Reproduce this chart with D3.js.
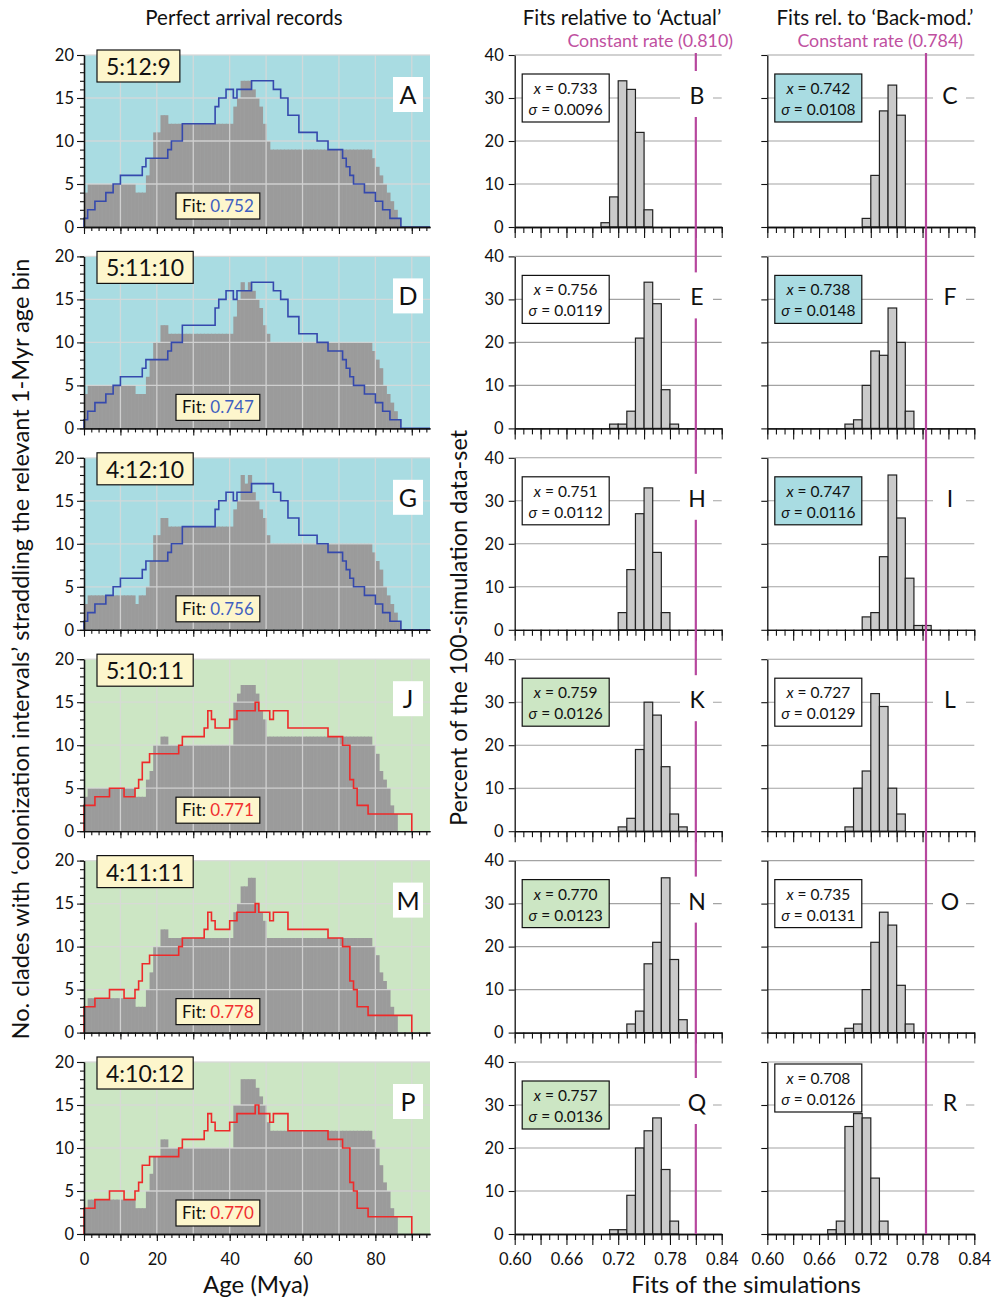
<!DOCTYPE html>
<html>
<head>
<meta charset="utf-8">
<script src="https://cdn.jsdelivr.net/npm/d3@7"></script>
<style>
  body { margin: 0; background: #fff; }
  svg text { font-family: Lato, "Open Sans", sans-serif; }
</style>
</head>
<body>
<svg id="chart" width="993" height="1299"></svg>
<script>
// ---------- data ----------
const ratioLabels = ["5:12:9", "5:11:10", "4:12:10", "5:10:11", "4:11:11", "4:10:12"];
const panelLetters = [["A", "B", "C"], ["D", "E", "F"], ["G", "H", "I"], ["J", "K", "L"], ["M", "N", "O"], ["P", "Q", "R"]];
const recordFits = [0.752, 0.747, 0.756, 0.771, 0.778, 0.770];

// clades per 1-Myr age bin (bin i covers i..i+1 Mya)
const grayA = [4,5,5,5,5,5,5,5,5,5, 5,5,5,5,4,4,4,6,8,11, 11,13,13,12,12,12,12,12,12,12,
  12,12,12,12,12,12,12,12,12,12, 12,14,15,17,17,17,16,15,14,12, 10,9,9,9,9,9,9,9,9,9,
  9,9,9,9,9,9,9,9,9,9, 9,9,9,9,9,9,9,9,9,8, 7,6,5,4,3,2,1];
const grayD = [4,5,5,5,5,5,5,5,5,5, 5,5,5,5,4,4,4,6,8,10, 10,12,12,11,11,11,11,11,11,11,
  11,11,11,11,11,11,11,11,11,11, 11,13,15,17,16,17,16,15,14,12, 11,10,10,10,10,10,10,10,10,10,
  10,10,10,10,10,10,10,10,10,10, 10,10,10,10,10,10,10,10,10,9, 8,7,5,4,3,2,1];
const grayG = [3,4,4,4,4,4,4,4,4,4, 4,4,4,4,3,4,4,5,8,11, 11,13,13,12,12,12,12,12,12,12,
  12,12,12,12,12,12,12,12,12,12, 12,14,15,18,17,18,16,15,14,13, 11,10,10,10,10,10,10,10,10,10,
  10,10,10,10,10,10,10,10,10,10, 10,10,10,10,10,10,10,10,10,9, 8,7,5,4,3,2,1];
const grayJ = [4,5,5,5,5,5,5,5,5,5, 5,5,5,5,4,4,4,6,7,10, 10,11,11,10,10,10,10,10,10,10,
  10,10,10,10,10,10,10,10,10,10, 10,15,16,17,17,17,17,16,14,13, 11,11,11,11,11,11,11,11,11,11,
  11,11,11,11,11,11,11,11,11,11, 11,11,11,11,11,11,11,11,11,10, 9,7,6,5,3,2];
const grayM = [3,4,4,4,4,4,4,4,4,4, 4,4,4,4,3,3,3,5,7,10, 10,12,12,11,11,11,11,11,11,11,
  11,11,11,11,11,11,11,11,11,11, 11,14,15,17,17,18,18,15,14,13, 11,11,11,11,11,11,11,11,11,11,
  11,11,11,11,11,11,11,11,11,11, 11,11,11,11,11,11,11,11,11,10, 9,7,6,5,3,2];
const grayP = [3,4,4,4,4,4,4,4,4,4, 4,4,4,4,3,3,3,5,7,9, 9,11,11,10,10,10,10,10,10,10,
  10,10,10,10,10,10,10,10,10,10, 10,15,15,18,18,18,18,17,16,15, 13,12,12,12,12,12,12,12,12,12,
  12,12,12,12,12,12,12,12,12,12, 12,12,12,12,12,12,12,12,12,11, 10,8,6,5,3,2];
const grayRecords = [grayA, grayD, grayG, grayJ, grayM, grayP];

// 'Actual' record (blue) and back-modelled record (red), per 1-Myr bin
const actualRecord = [1,2,2,3,3,3,4,4,5,5, 6,6,6,6,6,6,7,8,8,8, 8,8,8,9,10,10,10,12,12,12,
  12,12,12,12,12,12,14,15,15,16, 16,15,16,16,16,16,17,17,17,17, 17,17,16,16,15,15,13,13,13,11,
  11,11,11,11,10,10,10,9,9,9, 9,8,7,6,5,5,5,4,4,4, 3,3,2,2,1,1,1,0,0,0, 0,0,0,0,0];
const backModRecord = [3,3,3,4,4,4,4,5,5,5, 5,4,4,4,5,6,8,8,9,9, 9,9,9,9,9,9,10,11,11,11,
  11,11,11,12,14,13,12,12,12,12, 13,13,14,14,14,14,14,15,14,14, 14,13,14,14,14,14,12,12,12,12,
  12,12,12,12,12,12,12,11,11,11, 11,10,10,6,5,3,3,3,2,2, 2,2,2,2,2,2,2,2,2,2];

// histograms of simulation fits: first bin start, then percent per 0.01 bin
const actualFitStart = [0.70, 0.71, 0.72, 0.72, 0.73, 0.71];
const actualFitPct = [
  [1, 7, 34, 32, 22, 4],
  [1, 1, 4, 21, 34, 29, 9, 1],
  [4, 14, 27, 33, 18, 4],
  [1, 3, 19, 30, 27, 15, 4, 1],
  [2, 5, 16, 21, 36, 17, 3],
  [1, 1, 9, 20, 24, 27, 15, 3]
];
const actualMean = [0.733, 0.756, 0.751, 0.759, 0.770, 0.757];
const actualSd = ["0.0096", "0.0119", "0.0112", "0.0126", "0.0123", "0.0136"];

const backFitStart = [0.71, 0.69, 0.71, 0.69, 0.69, 0.67];
const backFitPct = [
  [2, 12, 27, 33, 26],
  [1, 2, 10, 18, 17, 28, 20, 4],
  [3, 4, 17, 36, 26, 12, 1, 1],
  [1, 10, 14, 32, 29, 10, 4],
  [1, 2, 10, 21, 28, 25, 11, 2],
  [1, 3, 25, 28, 27, 13, 3]
];
const backMean = [0.742, 0.738, 0.747, 0.727, 0.735, 0.708];
const backSd = ["0.0108", "0.0148", "0.0116", "0.0129", "0.0131", "0.0126"];

const constantRate = [0.810, 0.784];

const ageTicks = [0, 20, 40, 60, 80];
const countTicks = [0, 5, 10, 15, 20];
const pctTicks = [0, 10, 20, 30, 40];
const fitTicks = [0.60, 0.66, 0.72, 0.78, 0.84];

// ---------- styles ----------
const FONT = "Lato, 'Open Sans', sans-serif";
const BLUE_BG = "#a9dce2", GREEN_BG = "#cce6c4";
const BOX_YELLOW = "#fdf6cc";
const MAGENTA = "#b7479e";
const BLUE_LINE = "#3549ad", RED_LINE = "#ee2a2a";

const svg = d3.select("#chart");

// ---------- layout ----------
const rowTop = r => 55 + r * 201.4;
const ROW_H = 172;

const xAge = d3.scaleLinear().domain([0, 95]).range([84, 430]);
const xMid = d3.scaleLinear().domain([0.60, 0.84]).range([514.7, 721.7]);
const xRight = d3.scaleLinear().domain([0.60, 0.84]).range([767.3, 974.3]);

function styleAxis(g, size) {
  g.attr("font-family", FONT).attr("font-size", size);
  g.selectAll("path.domain").attr("stroke", "#111").attr("stroke-width", 1.3);
  g.selectAll(".tick line").attr("stroke", "#111").attr("stroke-width", 1.1);
  g.selectAll(".tick text").attr("fill", "#111");
}

function stepPath(values, x, y, closeToZero) {
  const pts = [[0, 0]];
  values.forEach((v, i) => pts.push([i, v]));
  pts.push([values.length, values[values.length - 1]]);
  if (closeToZero) pts.push([values.length, 0]);
  return d3.line().x(d => x(d[0])).y(d => y(d[1])).curve(d3.curveStepAfter)(pts);
}

for (let r = 0; r < 6; r++) {
  const top = rowTop(r), bottom = top + ROW_H;
  const isBottom = r === 5;
  const upper = r < 3;

  // ---------- left: arrival records ----------
  const yCount = d3.scaleLinear().domain([0, 20]).range([bottom, top]);
  const L = svg.append("g");
  L.append("rect").attr("x", xAge(0)).attr("y", top)
    .attr("width", xAge(95) - xAge(0)).attr("height", ROW_H)
    .attr("fill", upper ? BLUE_BG : GREEN_BG);

  // bars overlap slightly so no seams show between neighbours
  L.append("g").selectAll("rect").data(grayRecords[r]).join("rect")
    .attr("x", (d, i) => xAge(i)).attr("width", xAge(1) - xAge(0) + 0.6)
    .attr("y", d => yCount(d)).attr("height", d => yCount(0) - yCount(d))
    .attr("fill", "#9b9b9b");
  // faint bin edges
  L.append("g").selectAll("line").data(grayRecords[r].slice(1)).join("line")
    .attr("x1", (d, i) => xAge(i + 1)).attr("x2", (d, i) => xAge(i + 1))
    .attr("y1", (d, i) => yCount(Math.min(d, grayRecords[r][i]))).attr("y2", yCount(0))
    .attr("stroke", "#a0a0a0").attr("stroke-width", 0.45);

  const grid = L.append("g").attr("stroke", "#d9d9d9").attr("stroke-width", 1.3).attr("opacity", 0.85);
  grid.selectAll("line.v").data(d3.range(10, 95, 10)).join("line")
    .attr("x1", d => xAge(d)).attr("x2", d => xAge(d)).attr("y1", top).attr("y2", bottom);
  grid.selectAll("line.h").data([5, 10, 15, 20]).join("line")
    .attr("x1", xAge(0)).attr("x2", xAge(95)).attr("y1", d => yCount(d)).attr("y2", d => yCount(d));

  L.append("path")
    .attr("d", upper ? stepPath(actualRecord, xAge, yCount, false) : stepPath(backModRecord, xAge, yCount, true))
    .attr("fill", "none").attr("stroke", upper ? BLUE_LINE : RED_LINE).attr("stroke-width", 1.6);

  // axes
  const yMinor = L.append("g").attr("transform", `translate(${xAge(0)},0)`)
    .call(d3.axisLeft(yCount).tickValues(d3.range(0, 21, 1)).tickSize(4).tickSizeOuter(0).tickFormat(""));
  styleAxis(yMinor, 16);
  const yMajor = L.append("g").attr("transform", `translate(${xAge(0)},0)`)
    .call(d3.axisLeft(yCount).tickValues(countTicks).tickSize(7).tickPadding(3).tickSizeOuter(0));
  styleAxis(yMajor, 16.5);

  const xMinorAge = L.append("g").attr("transform", `translate(0,${bottom})`)
    .call(d3.axisBottom(xAge).tickValues(d3.range(0, 95, 2)).tickSize(4).tickSizeOuter(0).tickFormat(""));
  styleAxis(xMinorAge, 16);
  const xMajorAge = L.append("g").attr("transform", `translate(0,${bottom})`)
    .call(d3.axisBottom(xAge).tickValues(d3.range(0, 95, 10)).tickSize(7).tickPadding(12).tickSizeOuter(0)
      .tickFormat(d => (isBottom && ageTicks.includes(d)) ? d : ""));
  styleAxis(xMajorAge, 16.5);

  // ratio label box
  const rb = L.append("g").attr("transform", `translate(97,${top - 5})`);
  const rbRect = rb.append("rect").attr("height", 32).attr("fill", BOX_YELLOW)
    .attr("stroke", "#111").attr("stroke-width", 1.2);
  const rbText = rb.append("text").attr("x", 9).attr("y", 25).attr("font-size", 23).attr("fill", "#111")
    .text(ratioLabels[r]);
  rbRect.attr("width", rbText.node().getComputedTextLength() + 18);

  // panel letter
  L.append("rect").attr("x", 393).attr("y", top + 22).attr("width", 30).attr("height", 35).attr("fill", "#fff");
  L.append("text").attr("x", 408).attr("y", top + 49).attr("text-anchor", "middle")
    .attr("font-size", 25).attr("fill", "#111").text(panelLetters[r][0]);

  // fit box
  const fb = L.append("g").attr("transform", `translate(176,${top + 138})`);
  const fbRect = fb.append("rect").attr("height", 26).attr("fill", BOX_YELLOW)
    .attr("stroke", "#111").attr("stroke-width", 1.2);
  const fbText = fb.append("text").attr("x", 6).attr("y", 19).attr("font-size", 17).attr("fill", "#111");
  fbText.append("tspan").text("Fit: ");
  fbText.append("tspan").attr("fill", upper ? "#3f5fc0" : "#f03030").text(recordFits[r].toFixed(3));
  fbRect.attr("width", fbText.node().getComputedTextLength() + 12);

  // ---------- middle & right: histograms ----------
  const yPct = d3.scaleLinear().domain([0, 40]).range([bottom, top]);
  const cols = [
    { x: xMid, start: actualFitStart[r], pct: actualFitPct[r], mean: actualMean[r], sd: actualSd[r],
      boxFill: upper ? "#fff" : GREEN_BG, labels: true, boxDy: 19 },
    { x: xRight, start: backFitStart[r], pct: backFitPct[r], mean: backMean[r], sd: backSd[r],
      boxFill: upper ? BLUE_BG : "#fff", labels: false, boxDy: isBottom ? 2 : 19 }
  ];
  cols.forEach(c => {
    const G = svg.append("g");
    G.append("g").selectAll("line").data(pctTicks.filter(d => d > 0)).join("line")
      .attr("x1", c.x(0.60)).attr("x2", c.x(0.84))
      .attr("y1", d => yPct(d)).attr("y2", d => yPct(d))
      .attr("stroke", "#a3a3a3").attr("stroke-width", 1.1);

    G.append("g").selectAll("rect").data(c.pct).join("rect")
      .attr("x", (d, i) => c.x(c.start + i * 0.01))
      .attr("width", c.x(0.61) - c.x(0.60))
      .attr("y", d => yPct(d)).attr("height", d => yPct(0) - yPct(d))
      .attr("fill", "#cacaca").attr("stroke", "#222").attr("stroke-width", 1.2);

    const ya = G.append("g").attr("transform", `translate(${c.x(0.60)},0)`)
      .call(d3.axisLeft(yPct).tickValues(pctTicks).tickSize(6).tickPadding(5).tickSizeOuter(0)
        .tickFormat(d => c.labels ? d : ""));
    styleAxis(ya, 16.5);

    const xmin = G.append("g").attr("transform", `translate(0,${bottom})`)
      .call(d3.axisBottom(c.x).tickValues(d3.range(0, 25).map(i => 0.60 + i * 0.01)).tickSize(6)
        .tickSizeOuter(0).tickFormat(""));
    styleAxis(xmin, 16);
    const xmaj = G.append("g").attr("transform", `translate(0,${bottom})`)
      .call(d3.axisBottom(c.x).tickValues(d3.range(0, 9).map(i => 0.60 + i * 0.03)).tickSize(11)
        .tickPadding(8).tickSizeOuter(0)
        .tickFormat(d => (isBottom && fitTicks.some(t => Math.abs(t - d) < 1e-6)) ? d.toFixed(2) : ""));
    styleAxis(xmaj, 16.5);

    // mean / sd box
    const bx = c.x(0.60) + 7.5;
    const sb = G.append("g").attr("transform", `translate(${bx},${top + c.boxDy})`);
    sb.append("rect").attr("width", 87).attr("height", 48).attr("fill", c.boxFill)
      .attr("stroke", "#111").attr("stroke-width", 1.2);
    const t1 = sb.append("text").attr("x", 43.5).attr("y", 20).attr("text-anchor", "middle")
      .attr("font-size", 15.5).attr("fill", "#111");
    t1.append("tspan").attr("font-style", "italic").text("x");
    t1.append("tspan").text(" = " + c.mean.toFixed(3));
    const t2 = sb.append("text").attr("x", 43.5).attr("y", 41).attr("text-anchor", "middle")
      .attr("font-size", 15.5).attr("fill", "#111");
    t2.append("tspan").attr("font-style", "italic").text("σ");
    t2.append("tspan").text(" = " + c.sd);
  });
}

// ---------- constant-rate reference lines ----------
[[xMid, constantRate[0]], [xRight, constantRate[1]]].forEach(([x, v]) => {
  svg.append("line").attr("x1", x(v)).attr("x2", x(v))
    .attr("y1", 53).attr("y2", rowTop(5) + ROW_H)
    .attr("stroke", MAGENTA).attr("stroke-width", 2.2);
});

// letters of the histogram panels (drawn over the reference lines)
for (let r = 0; r < 6; r++) {
  const top = rowTop(r);
  [[697, panelLetters[r][1], 680], [950, panelLetters[r][2], 933]].forEach(([cx, letter, rx]) => {
    svg.append("rect").attr("x", rx).attr("y", top + 16).attr("width", 33).attr("height", 46).attr("fill", "#fff");
    svg.append("text").attr("x", cx).attr("y", top + 49).attr("text-anchor", "middle")
      .attr("font-size", 23).attr("fill", "#111").text(letter);
  });
}

// ---------- titles ----------
const titles = [
  { x: 244, y: 25, t: "Perfect arrival records" },
  { x: 622, y: 25, t: "Fits relative to \u2018Actual\u2019" },
  { x: 875, y: 25, t: "Fits rel. to \u2018Back-mod.\u2019" }
];
titles.forEach(d => svg.append("text").attr("x", d.x).attr("y", d.y).attr("text-anchor", "middle")
  .attr("font-size", 20.5).attr("fill", "#111").text(d.t));

svg.append("text").attr("x", 733).attr("y", 47).attr("text-anchor", "end")
  .attr("font-size", 17.8).attr("fill", "#c0509f").text(`Constant rate (${constantRate[0].toFixed(3)})`);
svg.append("text").attr("x", 963).attr("y", 47).attr("text-anchor", "end")
  .attr("font-size", 17.8).attr("fill", "#c0509f").text(`Constant rate (${constantRate[1].toFixed(3)})`);

svg.append("text").attr("transform", "translate(29,649) rotate(-90)").attr("text-anchor", "middle")
  .attr("font-size", 23.6).attr("fill", "#111")
  .text("No. clades with \u2018colonization intervals\u2019 straddling the relevant 1-Myr age bin");
svg.append("text").attr("transform", "translate(467,628) rotate(-90)").attr("text-anchor", "middle")
  .attr("font-size", 23.4).attr("fill", "#111")
  .text("Percent of the 100-simulation data-set");

svg.append("text").attr("x", 256).attr("y", 1293).attr("text-anchor", "middle")
  .attr("font-size", 24).attr("fill", "#111").text("Age (Mya)");
svg.append("text").attr("x", 746).attr("y", 1293).attr("text-anchor", "middle")
  .attr("font-size", 23.8).attr("fill", "#111").text("Fits of the simulations");
</script>
</body>
</html>
